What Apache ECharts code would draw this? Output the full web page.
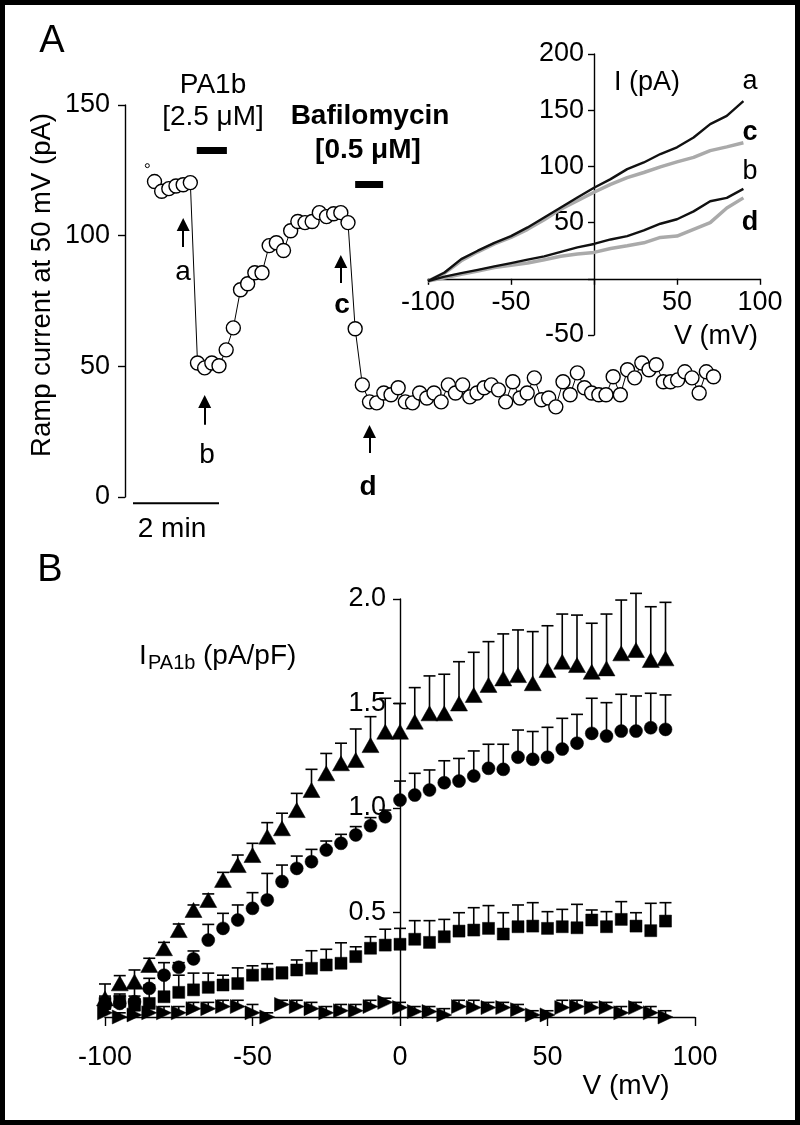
<!DOCTYPE html>
<html><head><meta charset="utf-8">
<script src="https://cdn.jsdelivr.net/npm/echarts@6/dist/echarts.min.js"></script>
<style>html,body{margin:0;padding:0;background:#fff}#c{width:800px;height:1125px}</style>
</head><body><div id="c"></div>
<script>
// ---------- Panel A: ramp current at 50 mV vs time (s) ----------
const timeA = [30,40,50,60,70,80,90,100,110,120,130,140,150,160,170,180,190,200,210,220,230,240,250,260,270,280,290,300,310,320,330,340,350,360,370,380,390,400,410,420,430,440,450,460,470,480,490,500,510,520,530,540,550,560,570,580,590,600,610,620,630,640,650,660,670,680,690,700,710,720,730,740,750,760,770,780,790,800,810];
const currentA = [120.7,117,118,119,119.5,120.3,51.3,49.4,51.3,50.2,56.3,64.7,79.3,81.6,85.8,85.8,96.2,97.3,94.3,101.9,105.4,105,105.4,108.8,107.3,108.4,108.8,105,64.4,42.9,36.4,36,39.8,39.1,41.8,36.4,36,39.8,37.9,39.8,36.4,42.9,39.8,42.9,38.3,39.8,41.8,42.9,41,36.4,44.1,37.9,39.8,45.6,37.2,37.9,34.5,44.1,39.1,47.5,41.8,39.8,39.1,39.1,46,39.1,48.7,45.6,51.3,48.7,50.6,44.1,44.1,44.8,47.9,45.6,39.8,47.9,46];
const preTime = [20];
const preCurrent = [126.8];
const scaleBarTime = [0, 120];          // 2 min
const scaleBarLevel = -2.4;
const arrowTime = [70, 100, 290, 330];  // a, b, c, d
const arrowFrom = [95.7, 27.6, 81.9, 16.8];
const arrowTo = [104.3, 36.5, 90.1, 25.1];
const drugBarStart = [89, 310];
const drugBarEnd = [131, 349];
const drugBarLevel = [132.6, 119.5];

// ---------- Inset: I-V ramps (pA vs mV) ----------
const vInset = [-100,-90,-80,-70,-60,-50,-40,-30,-20,-10,0,10,20,30,40,50,60,70,80,90];
const traceA = [-2,5.6,17.5,25,32,38,45.7,54.6,63.5,72.4,81,88.7,97.6,103.5,111,117,125.7,137.6,145,158];
const traceC = [-2,5,16,24,31,36.8,44,52.5,62,69.4,77,84,90,94.6,99.6,104,108,114,117.4,121];
const traceB = [-2,2,5,8,11,14,17,20,24,28,31,35,38,43,49,53,60,69,72,80];
const traceD = [-2,1,4,7,10,12,14,17,20,22,23.5,27,29.4,32,36.8,38,44,50,63,72];

// ---------- Panel B: I_PA1b density (pA/pF) vs V (mV) ----------
const vB = [-100,-95,-90,-85,-80,-75,-70,-65,-60,-55,-50,-45,-40,-35,-30,-25,-20,-15,-10,-5,0,5,10,15,20,25,30,35,40,45,50,55,60,65,70,75,80,85,90];
const triUp = [0.089,0.161,0.169,0.249,0.329,0.416,0.512,0.56,0.656,0.727,0.775,0.863,0.903,0.99,1.086,1.166,1.214,1.23,1.301,1.365,1.365,1.413,1.453,1.453,1.5,1.541,1.589,1.62,1.636,1.597,1.66,1.7,1.684,1.652,1.668,1.74,1.756,1.708,1.716];
const triUpTop = [0.158,0.198,0.225,0.281,0.357,0.445,0.536,0.589,0.692,0.775,0.831,0.93,0.975,1.07,1.185,1.261,1.31,1.378,1.437,1.525,1.5,1.576,1.632,1.64,1.7,1.745,1.796,1.833,1.852,1.844,1.872,1.928,1.923,1.884,1.928,1.995,2.027,1.963,1.984];
const circ = [0.057,0.065,0.073,0.137,0.2,0.238,0.278,0.368,0.424,0.464,0.52,0.56,0.648,0.711,0.743,0.799,0.831,0.871,0.915,0.958,1.038,1.062,1.086,1.121,1.129,1.153,1.19,1.185,1.243,1.233,1.243,1.282,1.31,1.357,1.344,1.368,1.368,1.384,1.376];
const circTop = [0.09,0.1,0.145,0.185,0.26,0.26,0.316,0.443,0.496,0.536,0.595,0.687,0.727,0.77,0.802,0.842,0.874,0.911,0.954,0.99,1.129,1.166,1.182,1.226,1.237,1.273,1.305,1.305,1.373,1.366,1.386,1.429,1.448,1.525,1.504,1.544,1.536,1.549,1.541];
const sq = [0.065,0.075,0.06,0.065,0.097,0.118,0.13,0.142,0.153,0.16,0.2,0.205,0.21,0.225,0.233,0.249,0.257,0.289,0.329,0.344,0.348,0.372,0.357,0.384,0.411,0.416,0.424,0.397,0.432,0.435,0.424,0.432,0.427,0.464,0.432,0.467,0.435,0.413,0.459];
const sqTop = [0.1,0.11,0.1,0.153,0.185,0.2,0.21,0.21,0.2,0.235,0.245,0.255,0.238,0.273,0.317,0.324,0.355,0.336,0.384,0.42,0.424,0.461,0.461,0.467,0.499,0.523,0.533,0.499,0.536,0.547,0.504,0.515,0.539,0.512,0.504,0.552,0.499,0.544,0.547];
const triR = [0.02,0.0,0.01,0.02,0.02,0.02,0.04,0.04,0.05,0.05,0.02,0.0,0.06,0.05,0.04,0.02,0.03,0.03,0.05,0.07,0.045,0.026,0.026,0.01,0.05,0.045,0.045,0.045,0.035,0.01,0.01,0.045,0.05,0.045,0.045,0.02,0.045,0.02,0.0];
const triRTop = [0.04,0.02,0.03,0.05,0.05,0.05,0.07,0.07,0.08,0.08,0.06,0.02,0.08,0.08,0.07,0.05,0.06,0.06,0.08,0.09,0.07,0.05,0.05,0.04,0.08,0.08,0.07,0.07,0.06,0.03,0.03,0.08,0.08,0.07,0.07,0.05,0.07,0.05,0.03];

const FF = '"Liberation Sans", Arial, Helvetica, sans-serif';
const FS = 27;   // tick labels
const FT = 28;   // annotation / title text

// grid boxes (layout)
const GA = { left: 133, top: 105, width: 602, height: 392 };
const GI = { left: 428, top: 54, width: 332, height: 281 };
const GB = { left: 105, top: 599, width: 590, height: 418 };
const insetX = [-100, 100], insetY = [-50, 200], bX = [-100, 100], bY = [0, 2];
// axis offsets so the axes pass through the origin (line, ticks and labels together)
const insetYOff = -GI.width * (0 - insetX[0]) / (insetX[1] - insetX[0]);
const insetXOff = -GI.height * (0 - insetY[0]) / (insetY[1] - insetY[0]);
const bYOff = -GB.width * (0 - bX[0]) / (bX[1] - bX[0]);

function zip(xs, ys) { return xs.map((x, i) => [x, ys[i]]); }
function zip3(xs, ys, zs) { return xs.map((x, i) => [x, ys[i], zs[i]]); }

function errRender(params, api) {
  const x = api.value(0), y = api.value(1), top = api.value(2);
  const p0 = api.coord([x, y]), p1 = api.coord([x, top]);
  const st = { stroke: '#000', lineWidth: 1.6 };
  return { type: 'group', children: [
    { type: 'line', shape: { x1: p0[0], y1: p0[1], x2: p1[0], y2: p1[1] }, style: st },
    { type: 'line', shape: { x1: p1[0] - 6, y1: p1[1], x2: p1[0] + 6, y2: p1[1] }, style: st }
  ]};
}
function errSeries(vals, tops) {
  return { type: 'custom', xAxisIndex: 2, yAxisIndex: 2, renderItem: errRender, clip: false,
    encode: { x: 0, y: [1, 2] }, data: zip3(vB, vals, tops), z: 2, silent: true };
}
function scat(vals, symbol, size, rot) {
  return { type: 'scatter', xAxisIndex: 2, yAxisIndex: 2, data: zip(vB, vals), symbol: symbol,
    symbolSize: size, symbolRotate: rot || 0, clip: false, z: 3,
    itemStyle: { color: '#000', opacity: 1, borderColor: '#000', borderWidth: 0.5 }, silent: true };
}

const blackAxis = { lineStyle: { color: '#000', width: 1.4 } };
const blackTick = { lineStyle: { color: '#000', width: 1.4 } };
const lab = (extra) => Object.assign({ color: '#000', fontSize: FS, fontFamily: FF }, extra);

const arrowMarks = arrowTime.map((t, i) => [
  { coord: [t, arrowFrom[i]], symbol: 'none' },
  { coord: [t, arrowTo[i]], symbol: 'triangle', symbolSize: 13 }
]);
const barMarks = drugBarStart.map((s, i) => [
  { coord: [s, drugBarLevel[i]], symbol: 'none', lineStyle: { width: 7, color: '#000', type: 'solid' } },
  { coord: [drugBarEnd[i], drugBarLevel[i]], symbol: 'none' }
]);

function txt(x, y, text, opt) {
  opt = opt || {};
  return { type: 'text', x: x, y: y, rotation: opt.rotation || 0, z: 100,
    style: { text: text, fill: '#000', fontSize: opt.size || FT, fontFamily: FF,
      fontWeight: opt.bold ? 'bold' : 'normal', align: opt.align || 'center', verticalAlign: 'middle' } };
}

const option = {
  animation: false,
  backgroundColor: '#fff',
  grid: [
    Object.assign({ outerBoundsMode: 'none' }, GA),
    Object.assign({ outerBoundsMode: 'none' }, GI),
    Object.assign({ outerBoundsMode: 'none' }, GB)
  ],
  xAxis: [
    { gridIndex: 0, type: 'value', min: 0, max: 840, show: false },
    { gridIndex: 1, type: 'value', min: insetX[0], max: insetX[1], interval: 50, offset: insetXOff,
      axisLine: Object.assign({ onZero: false }, blackAxis), axisTick: Object.assign({ length: 6 }, blackTick),
      axisLabel: lab({ margin: 10, formatter: v => v === 0 ? '' : String(v) }), splitLine: { show: false } },
    { gridIndex: 2, type: 'value', min: bX[0], max: bX[1], interval: 50,
      axisLine: Object.assign({ onZero: false }, blackAxis), axisTick: Object.assign({ length: 9 }, blackTick),
      axisLabel: lab({ margin: 27, formatter: v => String(v) }), splitLine: { show: false } }
  ],
  yAxis: [
    { gridIndex: 0, type: 'value', min: 0, max: 150, interval: 50, offset: 8,
      axisLine: Object.assign({ show: true, onZero: false }, blackAxis),
      axisTick: Object.assign({ show: true, length: 7 }, blackTick),
      axisLabel: lab({ margin: 15 }), splitLine: { show: false } },
    { gridIndex: 1, type: 'value', min: insetY[0], max: insetY[1], interval: 50, offset: insetYOff,
      axisLine: Object.assign({ show: true, onZero: false }, blackAxis),
      axisTick: Object.assign({ show: true, length: 6 }, blackTick),
      axisLabel: lab({ margin: 10, formatter: v => v === 0 ? '' : String(v) }), splitLine: { show: false } },
    { gridIndex: 2, type: 'value', min: bY[0], max: bY[1], interval: 0.5, offset: bYOff,
      axisLine: Object.assign({ show: true, onZero: false }, blackAxis),
      axisTick: Object.assign({ show: true, length: 7 }, blackTick),
      axisLabel: lab({ margin: 14, formatter: v => v === 0 ? '' : v.toFixed(1) }), splitLine: { show: false } }
  ],
  series: [
    // Panel A time course
    { type: 'line', xAxisIndex: 0, yAxisIndex: 0, data: zip(timeA, currentA), symbol: 'circle', symbolSize: 14,
      showAllSymbol: true, lineStyle: { color: '#000', width: 1 },
      itemStyle: { color: '#fff', borderColor: '#000', borderWidth: 1.4 }, z: 3, silent: true,
      markLine: { silent: true, animation: false, label: { show: false },
        lineStyle: { color: '#000', width: 2, type: 'solid' },
        symbol: ['none', 'none'], data: arrowMarks.concat(barMarks) } },
    { type: 'scatter', xAxisIndex: 0, yAxisIndex: 0, data: zip(preTime, preCurrent), symbol: 'circle', symbolSize: 4,
      itemStyle: { color: '#fff', opacity: 1, borderColor: '#000', borderWidth: 1 }, silent: true },
    { type: 'line', xAxisIndex: 0, yAxisIndex: 0, clip: false, symbol: 'none',
      data: scaleBarTime.map(t => [t, scaleBarLevel]), lineStyle: { color: '#000', width: 2 }, silent: true },
    // Inset traces
    { type: 'line', xAxisIndex: 1, yAxisIndex: 1, data: zip(vInset, traceC), symbol: 'none', lineStyle: { color: '#aaaaaa', width: 3.5 }, silent: true },
    { type: 'line', xAxisIndex: 1, yAxisIndex: 1, data: zip(vInset, traceD), symbol: 'none', lineStyle: { color: '#aaaaaa', width: 3.5 }, silent: true },
    { type: 'line', xAxisIndex: 1, yAxisIndex: 1, data: zip(vInset, traceA), symbol: 'none', lineStyle: { color: '#111', width: 2.4 }, silent: true },
    { type: 'line', xAxisIndex: 1, yAxisIndex: 1, data: zip(vInset, traceB), symbol: 'none', lineStyle: { color: '#111', width: 2.4 }, silent: true },
    // Panel B error bars then symbols
    errSeries(triUp, triUpTop), errSeries(circ, circTop), errSeries(sq, sqTop), errSeries(triR, triRTop),
    scat(triUp, 'triangle', [17, 15]),
    scat(circ, 'circle', 13),
    scat(sq, 'rect', 12),
    scat(triR, 'triangle', [14, 15], -90)
  ],
  graphic: [
    { type: 'rect', shape: { x: 2.5, y: 2.5, width: 795, height: 1120 }, style: { fill: 'none', stroke: '#000', lineWidth: 5 }, z: 100 },
    txt(52, 42, 'A', { size: 38 }),
    txt(50, 571, 'B', { size: 38 }),
    txt(213, 85, 'PA1b'),
    txt(213, 117, '[2.5 μM]'),
    txt(370, 116, 'Bafilomycin', { bold: true }),
    txt(368, 150, '[0.5 μM]', { bold: true }),
    txt(183, 272, 'a'),
    txt(207, 455, 'b'),
    txt(342, 305, 'c', { bold: true }),
    txt(368, 487, 'd', { bold: true }),
    txt(172, 529, '2 min'),
    txt(42, 285, 'Ramp current at 50 mV (pA)', { rotation: Math.PI / 2, size: 27.5 }),
    txt(647, 83, 'I (pA)', { size: 27 }),
    txt(716, 337, 'V (mV)', { size: 27 }),
    txt(750, 82, 'a', { size: 27 }),
    txt(750, 133, 'c', { bold: true, size: 27 }),
    txt(750, 172, 'b', { size: 27 }),
    txt(750, 223, 'd', { bold: true, size: 27 }),
    txt(139, 656, 'I', { align: 'left' }),
    txt(148, 663, 'PA1b', { align: 'left', size: 20 }),
    txt(203, 656, '(pA/pF)', { align: 'left' }),
    txt(626, 1086, 'V (mV)')
  ]
};

const chart = echarts.init(document.getElementById('c'), null, { renderer: 'canvas' });
chart.setOption(option);
</script>
</body></html>
